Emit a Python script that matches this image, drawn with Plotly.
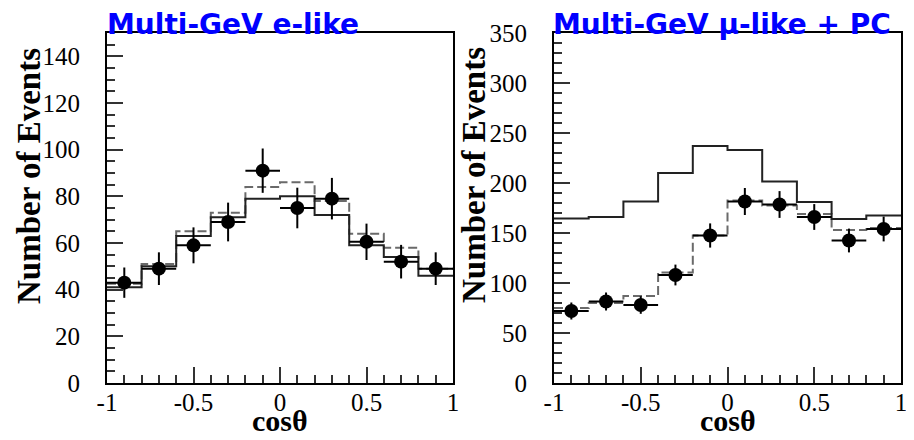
import plotly.graph_objects as go

# ---- data ----
bin_edges = [-1.0, -0.8, -0.6, -0.4, -0.2, 0.0, 0.2, 0.4, 0.6, 0.8, 1.0]
bin_centers = [-0.9, -0.7, -0.5, -0.3, -0.1, 0.1, 0.3, 0.5, 0.7, 0.9]
bin_halfwidth = 0.1

# Multi-GeV e-like
e_data = [43, 49, 59, 69, 91, 75, 79, 60.5, 52, 49]
e_err = [6.5, 7, 7.7, 8.3, 9.5, 8.7, 8.9, 7.8, 7.2, 7]
e_noosc = [41, 50, 63, 71, 79, 80, 72, 59, 54, 46]
e_osc = [42.5, 51, 65, 73, 84, 86, 78, 64, 58, 49]

# Multi-GeV mu-like + PC
mu_data = [72, 81.5, 78, 108, 147.5, 181.5, 178.5, 166, 142.5, 154]
mu_err = [8.5, 9, 8.8, 10.4, 12.1, 13.5, 13.4, 12.9, 11.9, 12.4]
mu_noosc = [164.5, 166, 181.5, 210, 237, 233, 201.5, 181, 164, 167.5]
mu_osc = [75, 80, 87, 110.5, 147.5, 182.5, 177.5, 169, 153, 155]

x_tickvals = [-1, -0.5, 0, 0.5, 1]
x_ticktext = ["-1", "-0.5", "0", "0.5", "1"]
e_yticks = [0, 20, 40, 60, 80, 100, 120, 140]
mu_yticks = [0, 50, 100, 150, 200, 250, 300, 350]

# page has an 8px body margin: figure drawn at (8, 8) inside a 914x440 window
OFF = 8
W, H = 914 - OFF, 440 - OFF


def px(x):
    return (x - OFF) / W


def py(y):
    return (H - (y - OFF)) / H


fig = go.Figure()


def step(vals):
    return vals + [vals[-1]]


def add_panel(xa, ya, noosc, osc, data, err):
    fig.add_trace(go.Scatter(x=bin_edges, y=step(osc), mode="lines", line_shape="hv",
                             line=dict(color="#6a6a6a", width=2, dash="9px,4px"),
                             xaxis=xa, yaxis=ya, showlegend=False, hoverinfo="skip"))
    fig.add_trace(go.Scatter(x=bin_edges, y=step(noosc), mode="lines", line_shape="hv",
                             line=dict(color="#222222", width=2),
                             xaxis=xa, yaxis=ya, showlegend=False, hoverinfo="skip"))
    fig.add_trace(go.Scatter(x=bin_centers, y=data, mode="markers",
                             marker=dict(color="black", size=14, symbol="circle"),
                             error_y=dict(type="data", array=err, visible=True,
                                          color="black", thickness=2, width=0),
                             error_x=dict(type="constant", value=bin_halfwidth, visible=True,
                                          color="black", thickness=2, width=0),
                             xaxis=xa, yaxis=ya, showlegend=False))


add_panel("x", "y", e_noosc, e_osc, e_data, e_err)
add_panel("x2", "y2", mu_noosc, mu_osc, mu_data, mu_err)

tickfont = dict(family="Liberation Serif, Times New Roman, serif", size=25, color="black")

ydom = [py(383), py(33)]

xcommon = dict(range=[-1, 1], tickmode="array", tickvals=x_tickvals, ticktext=x_ticktext,
               ticks="inside", ticklen=16, tickwidth=1.5, tickcolor="#333",
               minor=dict(dtick=0.1, ticks="inside", ticklen=8, tickwidth=1.5, tickcolor="#333"),
               showline=True, linecolor="black", linewidth=2, mirror=True,
               showgrid=False, zeroline=False, tickfont=tickfont, ticklabelstandoff=-4,
               automargin=False)

ycommon = dict(domain=ydom, tickmode="array",
               ticks="inside", ticklen=16, tickwidth=1.5, tickcolor="#333",
               showline=True, linecolor="black", linewidth=2, mirror=True,
               showgrid=False, zeroline=False, tickfont=tickfont, ticklabelstandoff=20,
               automargin=False)

fig.update_layout(
    width=W, height=H,
    margin=dict(l=0, r=0, t=0, b=0),
    paper_bgcolor="white", plot_bgcolor="white",
    xaxis=dict(xcommon, domain=[px(107), px(453)], anchor="y"),
    xaxis2=dict(xcommon, domain=[px(554), px(901)], anchor="y2"),
    yaxis=dict(ycommon, range=[0, 150], anchor="x", tickvals=e_yticks,
               minor=dict(dtick=5, ticks="inside", ticklen=8, tickwidth=1.5, tickcolor="#333")),
    yaxis2=dict(ycommon, range=[0, 350], anchor="x2", tickvals=mu_yticks,
                minor=dict(dtick=10, ticks="inside", ticklen=8, tickwidth=1.5, tickcolor="#333")),
)

serif_bold = "Liberation Serif, Times New Roman, serif"
title_font = dict(family="DejaVu Sans, sans-serif", size=28, color="#0000ff")

annotations = [
    dict(text="<b>Multi-GeV e-like</b>", x=px(106), y=py(24), xanchor="left", yanchor="middle",
         font=title_font),
    dict(text="<b>Multi-GeV μ-like + PC</b>", x=px(552), y=py(24), xanchor="left", yanchor="middle",
         font=title_font),
    dict(text="<b>Number of Events</b>", x=px(29), y=py(176), textangle=-90,
         xanchor="center", yanchor="middle", font=dict(family=serif_bold, size=33, color="black")),
    dict(text="<b>Number of Events</b>", x=px(474), y=py(175), textangle=-90,
         xanchor="center", yanchor="middle", font=dict(family=serif_bold, size=33, color="black")),
    dict(text="<b>cosθ</b>", x=px(280), y=py(420), xanchor="center", yanchor="middle",
         font=dict(family=serif_bold, size=30, color="black")),
    dict(text="<b>cosθ</b>", x=px(728), y=py(420), xanchor="center", yanchor="middle",
         font=dict(family=serif_bold, size=30, color="black")),
]
for a in annotations:
    a.update(xref="paper", yref="paper", showarrow=False, borderpad=0)
fig.update_layout(annotations=annotations)

fig.write_html("out.html")
